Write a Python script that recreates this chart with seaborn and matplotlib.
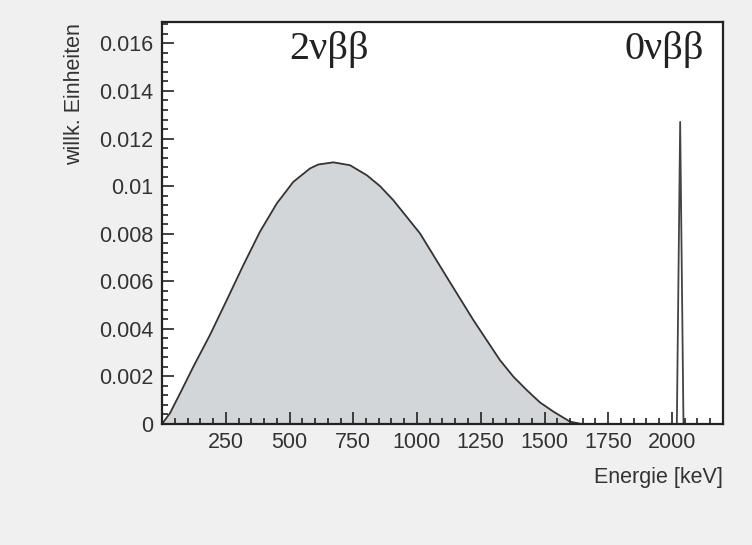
import numpy as np
import pandas as pd
import matplotlib
matplotlib.use("Agg")
import matplotlib.pyplot as plt
from matplotlib.ticker import MultipleLocator
import seaborn as sns

# --- data ---
energy_2nu = [0, 31, 71, 123, 188, 254, 319, 384, 450, 515, 580, 613, 672, 737, 803, 855,
              907, 1012, 1116, 1221, 1325, 1378, 1430, 1482, 1535, 1600, 1646]
rate_2nu = [0.0, 0.00045, 0.00129, 0.00241, 0.00374, 0.00521, 0.00668, 0.00808, 0.00927,
            0.01018, 0.01074, 0.01091, 0.01100, 0.01088, 0.01046, 0.01000, 0.00941, 0.00801,
            0.00619, 0.00437, 0.00269, 0.00199, 0.00143, 0.00091, 0.00052, 0.00010, 0.0]
energy_0nu = [2019, 2032, 2045]
rate_0nu = [0.0, 0.0127, 0.0]
x_ticks = [250, 500, 750, 1000, 1250, 1500, 1750, 2000]
y_ticks = [0, 0.002, 0.004, 0.006, 0.008, 0.01, 0.012, 0.014, 0.016]
y_labels = ["0", "0.002", "0.004", "0.006", "0.008", "0.01", "0.012", "0.014", "0.016"]
label_2nu = "2νββ"
label_0nu = "0νββ"
x_title = "Energie [keV]"
y_title = "willk. Einheiten"

sns.set_theme(style="white")
plt.rcParams["font.family"] = ["Liberation Sans", "DejaVu Sans"]

W, H = 752, 545
fig = plt.figure(figsize=(W / 100, H / 100), dpi=100, facecolor="#f0f0f0")
ax = fig.add_axes([162 / W, 1 - 424 / H, (723 - 162) / W, (424 - 22) / H])
ax.set_facecolor("white")
ax.set_axisbelow(False)

curve = pd.DataFrame({"E": energy_2nu, "r": rate_2nu})
ax.fill_between(curve["E"], curve["r"], 0, color="#d3d6d9", lw=0, zorder=1)
sns.lineplot(data=curve, x="E", y="r", ax=ax, color="#333333", lw=1.3, sort=False, zorder=2)

df0 = pd.DataFrame({"E": energy_0nu, "r": rate_0nu})
sns.lineplot(data=df0, x="E", y="r", ax=ax, color="#444444", lw=1.3, sort=False, zorder=2)

ax.set_xlim(0, 2200)
ax.set_ylim(0, 0.0169)
ax.set_xticks(x_ticks)
ax.set_xticklabels([str(t) for t in x_ticks])
ax.set_yticks(y_ticks)
ax.set_yticklabels(y_labels)
ax.xaxis.set_minor_locator(MultipleLocator(50))
ax.yaxis.set_minor_locator(MultipleLocator(0.0004))
ax.tick_params(which="both", direction="in", color="#222222", width=1.2,
               top=False, right=False, left=True, bottom=True)
ax.tick_params(which="major", length=8.5, labelsize=15.5, labelcolor="#333333", pad=6)
ax.tick_params(which="minor", length=4.5)

ax.set_xlabel("")
ax.set_ylabel("")
for s in ax.spines.values():
    s.set_color("#222222")
    s.set_linewidth(1.6)
    s.set_zorder(3)

fig.text(723 / W, 1 - 477 / H, x_title, ha="right", va="center", fontsize=15.5, color="#333333")
fig.text(75 / W, 1 - 23 / H, y_title, ha="center", va="top", rotation=90, fontsize=15.5, color="#333333")

fig.text(329 / W, 1 - 31 / H, label_2nu, ha="center", va="top", fontsize=29, color="#222222",
         family=["Liberation Serif", "DejaVu Serif"])
fig.text(704 / W, 1 - 31 / H, label_0nu, ha="right", va="top", fontsize=29, color="#222222",
         family=["Liberation Serif", "DejaVu Serif"])

fig.savefig("out.png", dpi=100, facecolor=fig.get_facecolor())
